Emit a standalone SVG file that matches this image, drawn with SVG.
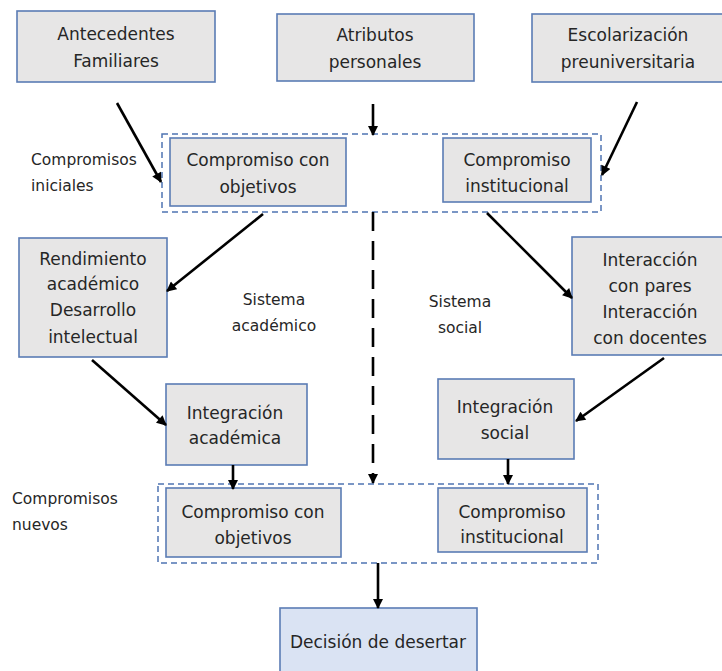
<svg xmlns="http://www.w3.org/2000/svg" width="722" height="671" viewBox="0 0 722 671">
<defs>
<style>
.box{fill:#e7e6e6;stroke:#5b7cb5;stroke-width:1.6}
.dec{fill:#dae3f3;stroke:#5b7cb5;stroke-width:1.6}
.grp{fill:none;stroke:#4f74b3;stroke-width:1.5;stroke-dasharray:6 4}
.t{font-family:"DejaVu Sans",sans-serif;font-size:17px;fill:#262626;text-anchor:middle}
.s{font-family:"DejaVu Sans",sans-serif;font-size:15.5px;fill:#262626}
.sc{text-anchor:middle}
.a{stroke:#000;stroke-width:2.6;fill:none;marker-end:url(#ah)}
.d{stroke:#000;stroke-width:2.6;fill:none;stroke-dasharray:19 10;marker-end:url(#ah)}
</style>
<marker id="ah" viewBox="0 0 10 10" refX="9" refY="5" markerWidth="11" markerHeight="10" markerUnits="userSpaceOnUse" orient="auto">
<path d="M0,0 L10,5 L0,10 z" fill="#000"/>
</marker>
</defs>
<rect width="722" height="671" fill="#fff"/>

<g id="compromisos-iniciales">
<rect class="grp" x="162" y="134" width="439" height="78"/>
<text class="s" x="31" y="165">Compromisos</text>
<text class="s" x="31" y="191">iniciales</text>
</g>
<g id="compromisos-nuevos">
<rect class="grp" x="158" y="484" width="440" height="79"/>
<text class="s" x="12" y="504">Compromisos</text>
<text class="s" x="12" y="530">nuevos</text>
</g>
<g id="sistema-academico">
<text class="s sc" x="274" y="305">Sistema</text>
<text class="s sc" x="274" y="331">académico</text>
</g>
<g id="sistema-social">
<text class="s sc" x="460" y="307">Sistema</text>
<text class="s sc" x="460" y="333">social</text>
</g>

<g id="antecedentes">
<rect class="box" x="17" y="11" width="198" height="71"/>
<text class="t" x="116" y="40">Antecedentes</text>
<text class="t" x="116" y="67">Familiares</text>
</g>
<g id="atributos">
<rect class="box" x="277" y="14" width="197" height="67"/>
<text class="t" x="375" y="41">Atributos</text>
<text class="t" x="375" y="68">personales</text>
</g>
<g id="escolarizacion">
<rect class="box" x="532" y="14" width="194" height="68"/>
<text class="t" x="628" y="41">Escolarización</text>
<text class="t" x="628" y="68">preuniversitaria</text>
</g>
<g id="compromiso-objetivos-1">
<rect class="box" x="170" y="138" width="176" height="68"/>
<text class="t" x="258" y="166">Compromiso con</text>
<text class="t" x="258" y="193">objetivos</text>
</g>
<g id="compromiso-institucional-1">
<rect class="box" x="443" y="138" width="148" height="64"/>
<text class="t" x="517" y="166">Compromiso</text>
<text class="t" x="517" y="192">institucional</text>
</g>
<g id="rendimiento">
<rect class="box" x="19" y="238" width="148" height="119"/>
<text class="t" x="93" y="265">Rendimiento</text>
<text class="t" x="93" y="290">académico</text>
<text class="t" x="93" y="316">Desarrollo</text>
<text class="t" x="93" y="343">intelectual</text>
</g>
<g id="interaccion">
<rect class="box" x="572" y="237" width="156" height="118"/>
<text class="t" x="650" y="266">Interacción</text>
<text class="t" x="650" y="292">con pares</text>
<text class="t" x="650" y="318">Interacción</text>
<text class="t" x="650" y="344">con docentes</text>
</g>
<g id="integracion-academica">
<rect class="box" x="166" y="384" width="141" height="81"/>
<text class="t" x="235" y="419">Integración</text>
<text class="t" x="235" y="444">académica</text>
</g>
<g id="integracion-social">
<rect class="box" x="438" y="379" width="136" height="80"/>
<text class="t" x="505" y="413">Integración</text>
<text class="t" x="505" y="439">social</text>
</g>
<g id="compromiso-objetivos-2">
<rect class="box" x="166" y="488" width="175" height="69"/>
<text class="t" x="253" y="518">Compromiso con</text>
<text class="t" x="253" y="544">objetivos</text>
</g>
<g id="compromiso-institucional-2">
<rect class="box" x="438" y="488" width="149" height="64"/>
<text class="t" x="512" y="518">Compromiso</text>
<text class="t" x="512" y="543">institucional</text>
</g>
<g id="decision">
<rect class="dec" x="280" y="608" width="197" height="70"/>
<text class="t" x="378" y="648">Decisión de desertar</text>
</g>

<g id="connectors">
<line class="a" x1="117" y1="103" x2="161" y2="182"/>
<line class="a" x1="373" y1="104" x2="373" y2="135"/>
<line class="a" x1="637" y1="102" x2="602" y2="175"/>
<line class="a" x1="263" y1="214" x2="167" y2="291"/>
<line class="a" x1="487" y1="213" x2="572" y2="298"/>
<line class="a" x1="92" y1="360" x2="166" y2="425"/>
<line class="a" x1="664" y1="358" x2="576" y2="421"/>
<line class="a" x1="233" y1="465" x2="233" y2="489"/>
<line class="a" x1="508" y1="459" x2="508" y2="484"/>
<line class="d" x1="373" y1="212" x2="373" y2="483"/>
<line class="a" x1="378" y1="563" x2="378" y2="608"/>
</g>
</svg>
